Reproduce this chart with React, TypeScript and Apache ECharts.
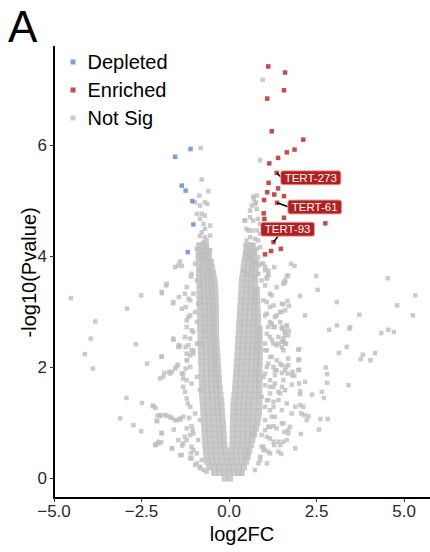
import React, { useEffect, useRef } from "react";
import * as echarts from "echarts";

const xTicks = [-5, -2.5, 0, 2.5, 5];
const yTicks = [0, 2, 4, 6];
const legendNames = ["Depleted", "Enriched", "Not Sig"];

const depletedPoints: number[][] = [
  [-1.1, 5.94], [-1.54, 5.8], [-1.35, 5.28], [-1.24, 5.19], [-1.05, 5.0], [-1.02, 4.58], [-1.18, 4.08],
];

const enrichedPoints: number[][] = [
  [1.12, 7.43], [1.6, 7.32], [1.57, 7.0], [1.09, 6.85], [1.22, 6.26], [2.12, 6.11], [1.87, 5.93],
  [1.65, 5.88], [1.4, 5.78], [1.15, 5.68], [1.36, 5.51], [1.13, 5.33], [1.4, 5.23], [1.09, 5.16],
  [1.29, 5.12], [1.57, 5.09], [1.0, 5.02], [1.37, 4.97], [0.99, 4.78], [1.01, 4.68], [1.57, 4.7],
  [2.75, 4.6], [1.27, 4.26], [1.48, 4.14], [1.2, 4.1], [1.03, 4.04],
];

const labelledGenes = ["TERT-273", "TERT-61", "TERT-93"];
const labelledPoints: number[][] = [[1.36, 5.51], [1.37, 4.97], [1.27, 4.26]];

// dense core of the "Not Sig" cloud, read row by row
const notSigCoreRows: { y: number; x: number[] }[] = [
  { y: 0.0, x: [-0.12, 0.02] },
  { y: 0.1, x: [-0.42, -0.28, -0.14, 0.0, 0.14, 0.28, 0.36] },
  { y: 0.2, x: [-0.56, -0.42, -0.28, -0.14, 0.0, 0.14, 0.28, 0.42] },
  { y: 0.3, x: [-0.62, -0.48, -0.34, -0.2, -0.06, 0.08, 0.22, 0.36, 0.48] },
  { y: 0.4, x: [-0.64, -0.5, -0.36, -0.22, -0.08, 0.06, 0.2, 0.34, 0.48, 0.53] },
  { y: 0.5, x: [-0.66, -0.52, -0.38, -0.24, -0.11, 0.06, 0.2, 0.34, 0.48, 0.57] },
  { y: 0.6, x: [-0.67, -0.53, -0.39, -0.25, -0.14, 0.1, 0.24, 0.38, 0.52, 0.62] },
  { y: 0.7, x: [-0.68, -0.54, -0.4, -0.26, -0.15, 0.11, 0.25, 0.39, 0.53, 0.66] },
  { y: 0.8, x: [-0.69, -0.55, -0.41, -0.27, -0.16, 0.11, 0.25, 0.39, 0.53, 0.67, 0.71] },
  { y: 0.9, x: [-0.7, -0.56, -0.42, -0.28, -0.17, 0.11, 0.25, 0.39, 0.53, 0.67, 0.76] },
  { y: 1.0, x: [-0.71, -0.57, -0.43, -0.29, -0.18, 0.12, 0.26, 0.4, 0.54, 0.68, 0.8] },
  { y: 1.1, x: [-0.72, -0.58, -0.44, -0.31, -0.2, 0.12, 0.26, 0.4, 0.54, 0.68, 0.83] },
  { y: 1.2, x: [-0.73, -0.59, -0.45, -0.32, -0.21, 0.13, 0.27, 0.41, 0.55, 0.69, 0.85] },
  { y: 1.3, x: [-0.74, -0.6, -0.46, -0.33, -0.22, 0.13, 0.27, 0.41, 0.55, 0.69, 0.86] },
  { y: 1.4, x: [-0.75, -0.61, -0.47, -0.34, -0.23, 0.14, 0.28, 0.42, 0.56, 0.7, 0.86] },
  { y: 1.5, x: [-0.76, -0.62, -0.48, -0.35, -0.25, 0.16, 0.3, 0.44, 0.58, 0.72, 0.86] },
  { y: 1.6, x: [-0.76, -0.62, -0.49, -0.36, -0.27, 0.18, 0.32, 0.46, 0.6, 0.74, 0.86] },
  { y: 1.7, x: [-0.77, -0.63, -0.5, -0.37, -0.29, 0.19, 0.33, 0.47, 0.61, 0.75, 0.86] },
  { y: 1.8, x: [-0.77, -0.63, -0.5, -0.38, -0.3, 0.2, 0.34, 0.48, 0.62, 0.76, 0.86] },
  { y: 1.9, x: [-0.78, -0.64, -0.51, -0.39, -0.31, 0.21, 0.35, 0.49, 0.63, 0.77, 0.86] },
  { y: 2.0, x: [-0.78, -0.64, -0.51, -0.4, -0.32, 0.22, 0.36, 0.5, 0.64, 0.78, 0.86] },
  { y: 2.1, x: [-0.79, -0.65, -0.52, -0.41, -0.33, 0.23, 0.37, 0.51, 0.65, 0.78, 0.87] },
  { y: 2.2, x: [-0.79, -0.65, -0.52, -0.41, -0.34, 0.24, 0.38, 0.52, 0.66, 0.79, 0.87] },
  { y: 2.3, x: [-0.8, -0.66, -0.53, -0.42, -0.35, 0.25, 0.39, 0.53, 0.67, 0.8, 0.87] },
  { y: 2.4, x: [-0.8, -0.66, -0.53, -0.43, -0.36, 0.26, 0.4, 0.54, 0.68, 0.8, 0.87] },
  { y: 2.5, x: [-0.81, -0.67, -0.54, -0.44, -0.37, 0.27, 0.41, 0.55, 0.69, 0.81, 0.87] },
  { y: 2.6, x: [-0.81, -0.67, -0.55, -0.45, -0.38, 0.28, 0.42, 0.56, 0.7, 0.82, 0.87] },
  { y: 2.7, x: [-0.82, -0.68, -0.55, -0.45, -0.38, 0.29, 0.43, 0.57, 0.7, 0.82, 0.87] },
  { y: 2.8, x: [-0.82, -0.68, -0.56, -0.46, -0.38, 0.3, 0.44, 0.58, 0.71, 0.82] },
  { y: 2.9, x: [-0.82, -0.69, -0.56, -0.46, -0.38, 0.31, 0.45, 0.59, 0.72, 0.82] },
  { y: 3.0, x: [-0.83, -0.69, -0.57, -0.47, -0.38, 0.32, 0.46, 0.6, 0.72, 0.81] },
  { y: 3.1, x: [-0.83, -0.7, -0.57, -0.47, -0.38, 0.33, 0.47, 0.6, 0.72, 0.8] },
  { y: 3.2, x: [-0.83, -0.7, -0.58, -0.48, -0.39, 0.34, 0.48, 0.61, 0.73, 0.8] },
  { y: 3.3, x: [-0.84, -0.71, -0.59, -0.49, -0.39, 0.35, 0.49, 0.62, 0.73, 0.79] },
  { y: 3.4, x: [-0.84, -0.71, -0.6, -0.5, -0.4, 0.36, 0.5, 0.62, 0.74, 0.79] },
  { y: 3.5, x: [-0.84, -0.72, -0.61, -0.51, -0.41, 0.37, 0.51, 0.63, 0.74] },
  { y: 3.6, x: [-0.85, -0.72, -0.62, -0.52, -0.43, 0.38, 0.52, 0.64, 0.74] },
  { y: 3.7, x: [-0.85, -0.73, -0.63, -0.53, -0.46, 0.4, 0.53, 0.65, 0.75] },
  { y: 3.8, x: [-0.85, -0.74, -0.64, -0.55, -0.49, 0.42, 0.55, 0.66, 0.75] },
  { y: 3.9, x: [-0.86, -0.75, -0.65, -0.56, -0.52, 0.44, 0.57, 0.68, 0.75] },
  { y: 4.0, x: [-0.86, -0.76, -0.67, -0.58, 0.47, 0.6, 0.7] },
  { y: 4.1, x: [-0.86, -0.77, -0.68, -0.6, 0.5, 0.62, 0.71] },
  { y: 4.2, x: [-0.85, -0.76, -0.66, 0.54, 0.66] },
];

// individually visible "Not Sig" points around the core
const notSigScatter: number[][] = [
  [-4.52, 3.25], [-3.82, 2.83], [-3.95, 2.52], [-4.12, 2.24], [-3.89, 1.98], [-2.91, 3.06], [-2.51, 3.3],
  [-2.66, 2.42], [-2.34, 2.07], [-1.92, 3.34], [-1.8, 3.48], [-1.6, 3.16], [-1.43, 3.27], [-1.59, 2.5],
  [-1.4, 3.91], [-1.35, 3.83], [-1.09, 3.64], [-1.43, 2.4], [-2.93, 1.45], [-2.49, 1.36], [-2.18, 1.31],
  [-2.1, 1.27], [-3.11, 1.08], [-2.73, 0.96], [-2.51, 0.85], [-2.04, 1.13], [-2.05, 1.03], [-2.09, 0.62],
  [-2.02, 0.63], [-1.93, 2.2], [-1.85, 1.9], [-1.71, 1.92], [-1.63, 1.92], [-1.97, 1.8], [-1.49, 2.02],
  [-1.46, 2.05], [-1.41, 2.38], [-1.97, 1.12], [-1.78, 1.13], [-1.64, 1.09], [-1.49, 1.05], [-1.39, 1.06],
  [-2.07, 1.04], [-1.14, 1.09], [-1.93, 0.82], [-2.09, 0.6], [-1.94, 0.65], [-1.62, 0.54], [-1.58, 0.88],
  [-1.4, 0.42], [-1.34, 0.59], [-1.11, 0.36], [-1.09, 0.45], [-1.26, 0.75], [-1.21, 0.69], [-1.07, 0.94],
  [-1.04, 0.87], [-1.31, 1.65], [-1.26, 1.56], [-1.21, 1.44], [-1.18, 1.35], [-1.21, 2.25], [-1.2, 2.13],
  [-1.11, 2.22], [-1.07, 2.31], [-1.35, 1.89], [-1.31, 1.8], [-1.24, 1.98],
  [-0.81, 5.96], [-0.78, 5.39], [-0.59, 5.18], [-0.85, 5.1], [-0.69, 4.98], [-0.62, 4.95], [-0.97, 4.98],
  [-0.83, 4.92], [-0.92, 4.77], [-0.78, 4.77], [-0.69, 4.74], [-0.83, 4.68], [-0.73, 4.59], [-0.54, 4.56],
  [-0.69, 4.5], [-0.78, 4.44], [-0.83, 4.37], [-0.69, 4.35], [-0.54, 4.38], [-0.64, 4.29], [-0.73, 4.26],
  [-0.92, 4.14], [-0.83, 4.11], [-0.64, 4.17], [-0.54, 4.11], [-0.88, 4.02], [-0.69, 3.99], [-0.59, 3.96],
  [-0.78, 3.95],
  [-0.97, 3.87], [-1.07, 3.69], [-0.92, 3.57], [-1.21, 3.45], [-1.02, 3.33], [-1.11, 3.21], [-0.88, 3.15],
  [-1.24, 3.09], [-0.97, 3.0], [-1.16, 2.91], [-0.92, 2.82], [-1.21, 2.73], [-1.02, 2.64], [-1.11, 2.52],
  [-0.92, 2.43], [-1.24, 2.37], [-0.83, 3.48], [-0.85, 3.75], [-0.78, 3.27], [-0.73, 2.91], [-0.71, 2.67],
  [-0.76, 2.43], [-1.16, 2.4], [-1.02, 2.31], [-0.88, 2.43], [-1.21, 1.77], [-1.07, 1.71], [-0.92, 1.83],
  [-0.83, 1.59], [-1.11, 1.29], [-0.97, 1.17], [-0.83, 1.05], [-1.02, 0.81], [-0.88, 0.69], [-1.07, 0.57],
  [-0.92, 0.45], [-0.78, 0.33], [-0.97, 0.24], [-0.83, 0.18], [-0.73, 0.15],
  [-2.16, 1.3], [-1.97, 1.14], [-1.83, 1.14], [-1.69, 1.11], [-1.54, 1.05], [-1.4, 1.08], [-1.31, 1.11],
  [-2.11, 0.6], [-2.02, 0.66], [-1.92, 0.81], [-1.64, 0.54], [-1.45, 0.69], [-1.31, 0.63], [-1.21, 0.9],
  [-1.11, 0.78], [-1.07, 0.36], [-1.35, 0.42], [-1.02, 0.51], [-0.92, 0.27], [-0.83, 0.21], [-0.64, 0.12],
  [-1.45, 3.84], [-1.54, 3.81], [-1.78, 3.51], [-1.92, 3.36], [-1.59, 3.18], [-1.26, 3.33], [-1.16, 3.24],
  [-1.35, 3.06], [-1.21, 2.85], [-1.11, 2.94], [-1.59, 2.52], [-1.45, 2.37], [-1.92, 2.19], [-1.02, 2.25],
  [-1.21, 2.13], [-1.11, 2.01], [-1.54, 1.98], [-1.69, 1.89], [-1.31, 1.89], [-1.88, 1.83], [-1.07, 2.67],
  [-1.26, 2.55],
  [4.53, 3.61], [5.32, 3.3], [4.8, 3.12], [5.25, 2.94], [3.72, 2.95], [3.08, 3.18], [2.49, 3.65], [2.53, 3.4],
  [2.03, 3.29], [2.17, 2.94], [2.86, 2.68], [3.08, 2.76], [3.44, 2.7], [3.46, 2.73], [4.35, 2.62], [4.55, 2.68],
  [4.71, 2.64], [3.36, 2.37], [3.14, 2.26], [3.82, 2.23], [3.76, 2.15], [4.04, 2.13], [4.17, 2.26], [2.76, 2.0],
  [2.8, 1.88], [2.8, 1.72], [3.41, 1.68], [2.65, 1.56], [2.37, 1.51], [2.71, 1.45], [2.03, 1.57], [2.17, 1.74],
  [2.0, 2.33], [2.0, 2.15], [2.0, 1.96], [1.79, 1.69], [1.69, 2.04], [1.8, 1.86], [1.86, 1.85], [1.51, 1.9],
  [1.67, 1.89], [1.65, 2.74], [1.71, 2.66], [1.58, 2.66], [1.51, 2.7], [1.6, 2.58], [1.55, 2.47], [1.63, 2.43],
  [1.51, 2.36], [1.67, 3.2], [1.55, 3.14], [1.71, 3.11], [1.49, 3.0], [1.65, 3.65], [1.69, 3.66], [1.6, 3.57],
  [1.57, 3.53], [1.77, 3.87], [1.87, 3.83],
  [2.61, 1.07], [2.82, 1.07], [2.57, 0.88], [2.15, 1.14], [2.27, 1.12], [2.22, 1.05], [2.03, 1.32], [2.12, 1.29],
  [1.89, 1.29], [1.79, 1.17], [2.06, 1.17], [2.05, 0.8], [1.89, 0.54], [1.49, 0.44], [1.65, 0.69], [1.55, 0.66],
  [1.69, 0.87], [1.74, 0.93], [1.58, 0.84], [1.29, 0.6], [1.27, 0.94], [1.31, 1.11], [1.51, 0.99], [1.41, 0.66],
  [1.17, 0.72], [1.03, 0.51], [0.93, 0.57], [2.03, 1.52], [2.0, 1.71], [1.98, 1.95], [1.81, 1.92], [1.98, 2.13],
  [1.98, 2.32], [1.46, 3.0], [1.36, 2.94], [1.29, 3.81], [1.12, 3.69], [1.03, 3.81], [0.93, 3.87], [0.84, 3.84],
  [0.79, 3.9], [1.55, 3.51], [1.6, 3.54],
  [0.89, 5.74], [0.96, 7.19], [0.71, 5.04], [0.77, 4.98], [0.65, 4.92], [0.79, 4.86], [0.46, 4.65], [0.6, 4.71],
  [0.69, 4.65], [0.83, 4.68], [0.89, 4.59], [0.5, 4.5], [0.65, 4.47], [0.79, 4.47], [0.89, 4.41], [0.6, 4.35],
  [0.74, 4.32], [0.83, 4.29], [0.46, 4.2], [0.55, 4.17], [0.69, 4.2], [0.79, 4.14], [0.89, 4.17], [0.5, 4.05],
  [0.65, 4.02], [0.74, 4.05], [0.6, 3.96], [0.46, 3.96], [0.83, 3.99], [0.69, 5.08], [0.79, 5.1], [0.74, 4.95],
  [0.6, 4.83], [0.44, 4.65], [0.55, 4.47], [0.5, 4.29], [0.46, 4.08], [0.65, 3.9], [1.03, 3.75], [0.84, 3.69],
  [0.55, 3.69], [0.41, 3.75], [0.74, 3.63], [1.08, 3.6],
  [1.12, 3.66], [1.36, 3.45], [1.03, 3.48], [1.22, 3.3], [1.08, 3.18], [0.93, 3.57], [1.17, 3.09],
  [1.51, 2.73], [1.65, 2.76], [1.6, 2.64], [1.69, 2.58], [1.51, 2.46], [1.6, 2.43], [1.22, 2.79], [1.27, 2.73],
  [1.12, 2.73], [1.08, 2.97], [1.31, 2.91], [1.41, 2.55], [1.17, 2.55], [1.03, 2.43], [1.36, 2.4],
  [1.08, 2.31], [1.22, 2.19], [1.27, 2.43], [1.27, 2.01], [1.36, 1.95], [1.31, 1.86], [1.17, 1.77], [1.27, 1.65],
  [1.51, 1.65], [1.63, 2.01], [1.12, 2.07], [1.03, 1.89], [1.17, 1.53], [1.41, 1.56], [1.55, 1.77], [1.03, 1.68],
  [1.46, 2.07], [1.6, 1.95], [1.12, 1.41], [1.27, 1.38], [1.41, 1.41], [1.17, 1.23], [1.03, 1.05], [1.12, 0.93],
  [1.36, 0.9], [1.03, 0.87], [0.93, 0.78], [1.22, 1.11], [1.03, 1.29], [0.93, 1.47], [0.98, 0.57], [0.89, 0.39],
  [1.12, 0.48], [0.84, 0.27], [0.74, 0.15], [0.98, 1.83], [1.17, 1.65], [1.31, 1.71], [1.46, 1.53], [1.6, 1.59],
  [1.08, 1.41], [1.27, 1.29], [1.51, 1.23], [1.65, 1.35], [1.17, 0.93], [1.55, 0.99], [1.69, 0.81], [1.08, 0.75],
  [1.27, 0.66], [1.46, 0.6], [0.98, 0.51], [1.17, 0.45], [1.41, 0.48], [0.89, 0.33], [1.08, 0.27],
  [0.98, 3.87], [1.12, 3.75], [1.08, 3.63], [1.17, 3.33], [0.98, 3.21], [1.27, 3.12], [1.51, 3.15], [1.6, 3.03],
  [1.03, 2.94], [1.17, 2.82], [1.31, 2.73], [1.46, 2.82], [1.08, 2.61], [1.22, 2.49], [1.41, 2.43], [1.55, 2.52],
  [1.03, 2.31], [1.17, 2.19], [1.36, 2.13], [1.55, 2.31], [1.08, 2.01], [1.31, 1.95], [1.51, 2.04], [1.69, 2.16],
];

// label box placement (pixel offsets from the point): box left, box centre, segment end
const labelLayout = [
  { dx: 4.5, dy: 4.8, lx: 4.5, ly: 4.3 },
  { dx: 11.3, dy: 4.3, lx: 11.3, ly: 4 },
  { dx: -12.3, dy: -13, lx: 5, ly: -6.7 },
];

const FONT = '"Liberation Sans", Arial, Helvetica, sans-serif';
const GREY = "#BEBEBE";
const RED = "#B41F1F";
const BLUE = "#5F86CF";

export default function App() {
  const ref = useRef<HTMLDivElement>(null);

  useEffect(() => {
    if (!ref.current) return;
    const chart = echarts.init(ref.current, null, { renderer: "svg" });

    const coreData: number[][] = [];
    notSigCoreRows.forEach((row) => row.x.forEach((x) => coreData.push([x, row.y])));

    const option: any = {
      animation: false,
      textStyle: { fontFamily: FONT },
      grid: { left: 54, right: 0, top: 46.7, bottom: 54, outerBoundsMode: "none" },
      graphic: [
        {
          type: "text",
          left: 8,
          top: 4,
          style: { text: "A", font: `44px ${FONT}`, fill: "#000" },
        },
      ],
      legend: {
        data: legendNames.map((n) => ({ name: n, icon: "rect" })),
        orient: "vertical",
        left: 70.5,
        top: 52,
        padding: 0,
        itemWidth: 5,
        itemHeight: 5,
        itemGap: 8,
        selectedMode: false,
        textStyle: { fontSize: 20, color: "#000", lineHeight: 20, padding: [0, 0, 0, 7], fontFamily: FONT },
      },
      xAxis: {
        type: "value",
        min: -5,
        max: 5.74,
        name: "log2FC",
        nameLocation: "middle",
        nameGap: 26,
        nameMoveOverlap: false,
        nameTextStyle: { fontSize: 20, color: "#000", fontFamily: FONT },
        axisLine: { show: true, onZero: false, lineStyle: { color: "#000", width: 2 } },
        axisTick: { show: true, length: 4, customValues: xTicks, lineStyle: { color: "#333", width: 1 } },
        axisLabel: {
          customValues: xTicks,
          fontSize: 17,
          color: "#2a2a2a",
          margin: 5,
          formatter: (v: number) => v.toFixed(1).replace("-", "\u2212"),
        },
        splitLine: { show: false },
      },
      yAxis: {
        type: "value",
        min: -0.355,
        max: 7.786,
        name: "-log10(Pvalue)",
        nameLocation: "middle",
        nameRotate: 90,
        nameGap: 15,
        nameMoveOverlap: false,
        nameTextStyle: { fontSize: 20, color: "#000", fontFamily: FONT },
        axisLine: { show: true, onZero: false, lineStyle: { color: "#000", width: 2 } },
        axisTick: { show: true, length: 4, customValues: yTicks, lineStyle: { color: "#333", width: 1 } },
        axisLabel: {
          customValues: yTicks,
          fontSize: 17,
          color: "#2a2a2a",
          margin: 7,
          formatter: (v: number) => String(v),
        },
        splitLine: { show: false },
      },
      series: [
        {
          name: "Not Sig",
          type: "scatter",
          symbol: "rect",
          symbolSize: 6.5,
          itemStyle: { color: GREY },
          data: coreData,
          silent: true,
          emphasis: { disabled: true },
        },
        {
          name: "Not Sig",
          type: "scatter",
          symbol: "rect",
          symbolSize: 4.5,
          itemStyle: { color: GREY },
          data: notSigScatter,
          silent: true,
          emphasis: { disabled: true },
        },
        {
          name: "Depleted",
          type: "scatter",
          symbol: "rect",
          symbolSize: 4.5,
          itemStyle: { color: BLUE },
          data: depletedPoints,
          silent: true,
          emphasis: { disabled: true },
        },
        {
          name: "Enriched",
          type: "scatter",
          symbol: "rect",
          symbolSize: 4.5,
          itemStyle: { color: RED },
          data: enrichedPoints,
          silent: true,
          emphasis: { disabled: true },
        },
        {
          type: "custom",
          silent: true,
          z: 10,
          data: labelledPoints.map((p, i) => [p[0], p[1], i]),
          renderItem: (_params: any, api: any) => {
            const idx = api.value(2) as number;
            const p = api.coord([api.value(0), api.value(1)]);
            const o = labelLayout[idx];
            return {
              type: "group",
              children: [
                {
                  type: "line",
                  shape: { x1: p[0], y1: p[1], x2: p[0] + o.lx, y2: p[1] + o.ly },
                  style: { stroke: "#000", lineWidth: 1.5 },
                },
                {
                  type: "text",
                  x: p[0] + o.dx,
                  y: p[1] + o.dy,
                  style: {
                    text: labelledGenes[idx],
                    fill: "#fff",
                    font: `11.5px ${FONT}`,
                    align: "left",
                    verticalAlign: "middle",
                    lineHeight: 11,
                    backgroundColor: RED,
                    borderColor: "#E7A3A3",
                    borderWidth: 1,
                    borderRadius: 2,
                    padding: [1, 3.5, 1, 3.5],
                  },
                },
              ],
            };
          },
        },
      ],
    };

    chart.setOption(option);
    return () => chart.dispose();
  }, []);

  return (
    <div
      ref={ref}
      style={{ position: "absolute", left: 0, top: 0, width: 430, height: 552, background: "#fff" }}
    />
  );
}
